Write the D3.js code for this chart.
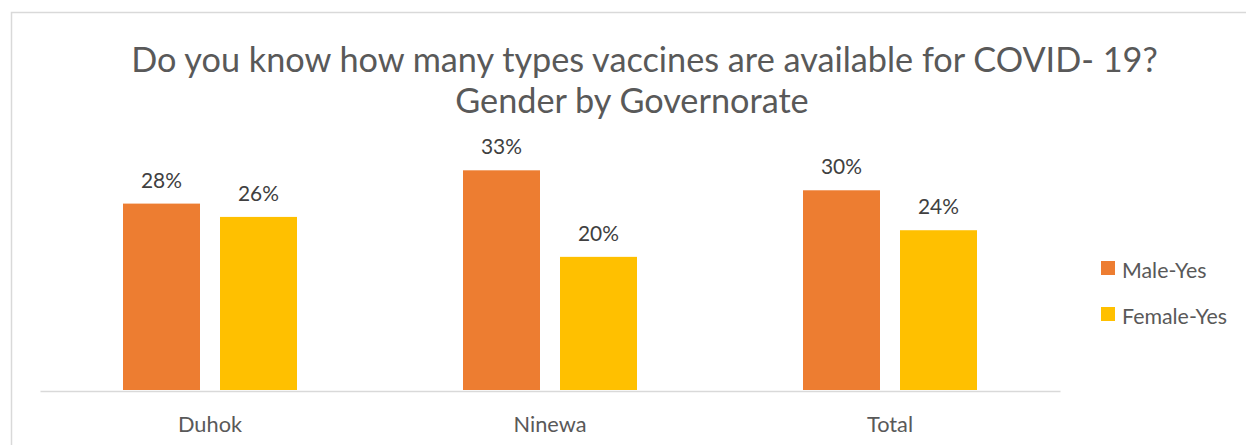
<!DOCTYPE html>
<html><head><meta charset="utf-8">
<script src="https://cdn.jsdelivr.net/npm/d3@7"></script>
<style>body{margin:0;background:#fff;}svg{display:block;font-family:Lato,"Open Sans",sans-serif;}</style>
</head><body>
<script>
const categories = ["Duhok", "Ninewa", "Total"];
const seriesNames = ["Male-Yes", "Female-Yes"];
const maleYes = [0.28, 0.33, 0.30];
const femaleYes = [0.26, 0.20, 0.24];
const titleLines = ["Do you know how many types vaccines are available for COVID- 19?", "Gender by Governorate"];
const colors = ["#ED7D31", "#FFC000"];

const W = 1246, H = 445;
const svg = d3.select("body").append("svg").attr("width", W).attr("height", H);
svg.append("rect").attr("x", 11.5).attr("y", 12.5).attr("width", W).attr("height", H)
  .attr("fill", "#fff").attr("stroke", "#d9d9d9").attr("stroke-width", 1.5);

// measure a sample string to pick a font size matching a target width
function sizeFor(str, targetW) {
  const t = svg.append("text").attr("font-size", 24).text(str);
  const w = t.node().getComputedTextLength();
  t.remove();
  return 24 * targetW / w;
}
const fsTitle = sizeFor(titleLines[0], 1027);
const fsCat = sizeFor("Ninewa", 73);
const fsLabel = sizeFor("28%", 41);
const fsLeg = sizeFor("Female-Yes", 105);

const plot = {left: 40, right: 1060, bottom: 390};
const x0 = d3.scaleBand().domain(categories).range([plot.left, plot.right]).paddingInner(0).paddingOuter(0);
const y = d3.scaleLinear().domain([0, 0.35]).range([plot.bottom, plot.bottom - 233]);
const barW = 77, gap = 20;
const x1 = d3.scaleOrdinal().domain(seriesNames).range([-barW - gap/2, gap/2]);

const data = categories.map((c, i) => ({cat: c, vals: [maleYes[i], femaleYes[i]]}));

// title
svg.append("text").attr("x", 644.5).attr("y", 72).attr("text-anchor", "middle")
  .attr("font-size", fsTitle).attr("fill", "#595959").text(titleLines[0]);
svg.append("text").attr("x", 632).attr("y", 113).attr("text-anchor", "middle")
  .attr("font-size", fsTitle).attr("fill", "#595959").text(titleLines[1]);

// bars
const g = svg.append("g");
data.forEach(d => {
  d.vals.forEach((v, j) => {
    const cx = x0(d.cat) + x0.bandwidth() / 2 + x1(seriesNames[j]);
    g.append("rect").attr("x", cx).attr("y", y(v)).attr("width", barW)
      .attr("height", y(0) - y(v)).attr("fill", colors[j]);
    g.append("text").attr("x", cx + barW / 2).attr("y", y(v) - 16).attr("text-anchor", "middle")
      .attr("font-size", fsLabel).attr("fill", "#404040").text(d3.format(".0%")(v));
  });
});

// axis
const xAxis = d3.axisBottom(x0).tickSize(0).tickPadding(0);
const ax = svg.append("g").attr("transform", `translate(0,${plot.bottom + 1})`).call(xAxis);
ax.select(".domain").attr("stroke", "#d9d9d9").attr("stroke-width", 1.5);
ax.selectAll(".tick text").attr("font-size", fsCat).attr("fill", "#595959")
  .attr("font-family", "Lato,'Open Sans',sans-serif").attr("dy", null).attr("y", 41);

// legend
const leg = svg.append("g");
seriesNames.forEach((s, i) => {
  const ly = 261 + i * 46;
  leg.append("rect").attr("x", 1101).attr("y", ly).attr("width", 14).attr("height", 14).attr("fill", colors[i]);
  leg.append("text").attr("x", 1122).attr("y", ly + 17).attr("font-size", fsLeg).attr("fill", "#595959").text(s);
});
</script>
</body></html>
